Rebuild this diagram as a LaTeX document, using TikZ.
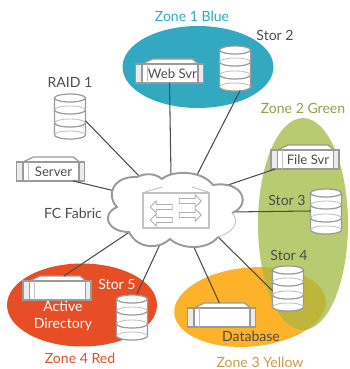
\documentclass[tikz,border=0pt]{standalone}
\usepackage{fontspec}
\setmainfont{Lato}
\usepackage{xcolor}
\usepackage{tikz}
\usetikzlibrary{shapes.geometric,shapes.arrows}

\definecolor{zoneblue}{HTML}{33A9C1}
\definecolor{zonegreen}{HTML}{B9CB70}
\definecolor{zoneyellow}{HTML}{FDB22A}
\definecolor{zoneolive}{HTML}{BDB63A}
\definecolor{zonered}{HTML}{E84E26}
\definecolor{unitgray}{HTML}{9A9A9A}
\definecolor{textgray}{HTML}{4D4D4D}
\definecolor{greentext}{HTML}{8DA34A}
\definecolor{yellowtext}{HTML}{C99A4E}

\tikzset{
    zone/.style = {ellipse, inner sep = 0pt, draw = none},
    caption/.style = {font = \fontsize{8}{9.5}\selectfont, text = textgray, inner sep = 0pt, align = center},
    svrcaption/.style = {font = \fontsize{7.5}{9}\selectfont, text = textgray, inner sep = 0pt},
    unitline/.style = {draw = unitgray, line width = 0.7pt, fill = white},
    softline/.style = {draw = unitgray!60, line width = 0.5pt},
    anchorbox/.style = {rectangle, inner sep = 0pt, outer sep = 0pt, draw = none},
    link/.style = {draw = black!70, line width = 0.6pt},
    swarrow/.style = {single arrow, draw = unitgray!80, fill = white, line width = 0.5pt, inner sep = 0.04cm,
        minimum height = 0.44cm, minimum width = 0.24cm, single arrow head extend = 0.07cm}
}

% #1 name, #2 position
\newcommand{\storunit}[2]{
    \node (#1) at (#2) [anchorbox, minimum width = 0.62cm, minimum height = 0.92cm] {};
    \begin{scope}[shift = {(#2)}]
        \path [unitline] (-15.5, -18) -- (-15.5, 19) arc [start angle = 180, end angle = 360, x radius = 0.31cm, y radius = 0.08cm] -- (15.5, -18) -- cycle;
        \draw [unitline] (0, -18) ellipse [x radius = 0.31cm, y radius = 0.08cm];
        \draw [softline] (-15.5, -6) arc [start angle = 180, end angle = 0, x radius = 0.31cm, y radius = 0.08cm];
        \draw [softline] (-15.5, 7) arc [start angle = 180, end angle = 0, x radius = 0.31cm, y radius = 0.08cm];
        \draw [softline] (-15.5, 19) arc [start angle = 180, end angle = 0, x radius = 0.31cm, y radius = 0.08cm];
        \draw [unitline, fill = none] (-15.5, -6) arc [start angle = 180, end angle = 360, x radius = 0.31cm, y radius = 0.08cm];
        \draw [unitline, fill = none] (-15.5, 7) arc [start angle = 180, end angle = 360, x radius = 0.31cm, y radius = 0.08cm];
    \end{scope}
}

% #1 name, #2 position, #3 text
\newcommand{\svrunit}[3]{
    \node (#1) at (#2) [anchorbox, minimum width = 1.36cm, minimum height = 0.48cm] {};
    \begin{scope}[shift = {(#2)}]
        \draw [unitline] (-27.5, -7) -- (-17, -12) -- (23, -12) -- (29, -7) -- cycle;
        \draw [unitline] (-27.5, -7) rectangle (28.5, 12);
        \draw [unitline, fill = black!8] (-34, -7) rectangle (-27.5, 12);
        \draw [unitline, fill = black!8] (28.5, -7) rectangle (34, 12);
        \draw [softline] (-22.5, -7) -- (-22.5, 12);
        \node (#1text) at (3, 2.5) [svrcaption] {#3};
    \end{scope}
}

\begin{document}
\begin{tikzpicture}[x = 0.02cm, y = -0.02cm]
            \useasboundingbox (0, 0) rectangle (350, 369);
            % zones
            \node (zone1) at (198, 67) [zone, fill = zoneblue, minimum width = 3.02cm, minimum height = 1.64cm] {};
            \node (zone4) at (82, 305) [zone, fill = zonered, minimum width = 3cm, minimum height = 1.66cm] {};
            \node (zone3) at (250, 307) [zone, fill = zoneyellow, minimum width = 3.04cm, minimum height = 1.58cm, rotate = 5] {};
            \node (zone2) at (303, 224) [zone, fill = zonegreen, minimum width = 1.8cm, minimum height = 4.24cm] {};
            \begin{scope}
                \clip (303, 224) ellipse [x radius = 0.9cm, y radius = 2.12cm];
                \fill [zoneolive, rotate around = {5:(250, 307)}] (250, 307) ellipse [x radius = 1.52cm, y radius = 0.79cm];
            \end{scope}

            % units
            \svrunit{websvr}{169.5, 71}{Web Svr}
            \svrunit{filesvr}{305, 157}{File Svr}
            \svrunit{server}{50.5, 169}{Server}
            \svrunit{actdir}{57, 288}{}
            \svrunit{database}{221.5, 315}{}
            \storunit{stor2}{235, 68}
            \storunit{raid1}{70, 116}
            \storunit{stor3}{326, 211}
            \storunit{stor4}{288, 288}
            \storunit{stor5}{132, 317}

            % ends on the fabric
            \coordinate (fabric1) at (171, 175);
            \coordinate (fabric2) at (197, 175);
            \coordinate (fabric3) at (140, 177);
            \coordinate (fabric4) at (115, 191);
            \coordinate (fabric5) at (228, 185);
            \coordinate (fabric6) at (230, 212);
            \coordinate (fabric7) at (216, 235);
            \coordinate (fabric8) at (192, 243);
            \coordinate (fabric9) at (162, 240);
            \coordinate (fabric10) at (131, 231);

            % connectors
            \draw [link] (websvr.south) edge (fabric1);
            \draw [link] (stor2.-78) edge (fabric2);
            \draw [link] (raid1.-17) edge (fabric3);
            \draw [link] (server.-28) edge (fabric4);
            \draw [link] (filesvr.-158) edge (fabric5);
            \draw [link] (stor3.west) edge (fabric6);
            \draw [link] (stor4.-170) edge (fabric7);
            \draw [link] (database.100) edge (fabric8);
            \draw [link] (stor5.78) edge (fabric9);
            \draw [link] (actdir.60) edge (fabric10);

            % fabric
            \draw [unitline, line width = 1.1pt] (218, 237) .. controls (208, 250) and (182, 250) .. (170, 239)
                .. controls (160, 249) and (138, 250) .. (129, 232)
                .. controls (108, 232) and (100, 215) .. (117, 207)
                .. controls (106, 196) and (112, 176) .. (137, 177)
                .. controls (145, 173) and (155, 173) .. (162, 179)
                .. controls (172, 170) and (202, 170) .. (213, 185)
                .. controls (243, 180) and (252, 205) .. (232, 213);
            \draw [softline] (232, 213) .. controls (240, 222) and (234, 232) .. (218, 237);
            \draw [softline, line width = 0.9pt] (143, 193) rectangle (209, 228);
            \draw [softline] (145, 192) -- (162, 187);
            \draw [softline] (208, 192) -- (192, 187);
            \node (arrow1) at (189, 201) [swarrow] {};
            \node (arrow2) at (189, 215) [swarrow] {};
            \node (arrow3) at (162.5, 207) [swarrow, rotate = 180] {};
            \node (arrow4) at (162.5, 220) [swarrow, rotate = 180] {};

            % labels
            \node (zone1text) at (192, 16) [caption, text = zoneblue] {Zone 1 Blue};
            \node (zone2text) at (303, 108) [caption, text = greentext] {Zone 2 Green};
            \node (zone3text) at (260, 362) [caption, text = yellowtext] {Zone 3 Yellow};
            \node (zone4text) at (80, 358) [caption, text = zonered] {Zone 4 Red};
            \node (stor2text) at (275, 35) [caption] {Stor 2};
            \node (raid1text) at (70, 82) [caption] {RAID 1};
            \node (stor3text) at (287, 200) [caption] {Stor 3};
            \node (stor4text) at (289, 255) [caption] {Stor 4};
            \node (stor5text) at (117, 284) [caption, text = white] {Stor 5};
            \node (fabrictext) at (73, 213) [caption] {FC Fabric};
            \node (actdirtext) at (63, 316) [caption, text = white] {Active\\Directory};
            \node (databasetext) at (251, 336) [caption] {Database};
        \end{tikzpicture}
\end{document}
